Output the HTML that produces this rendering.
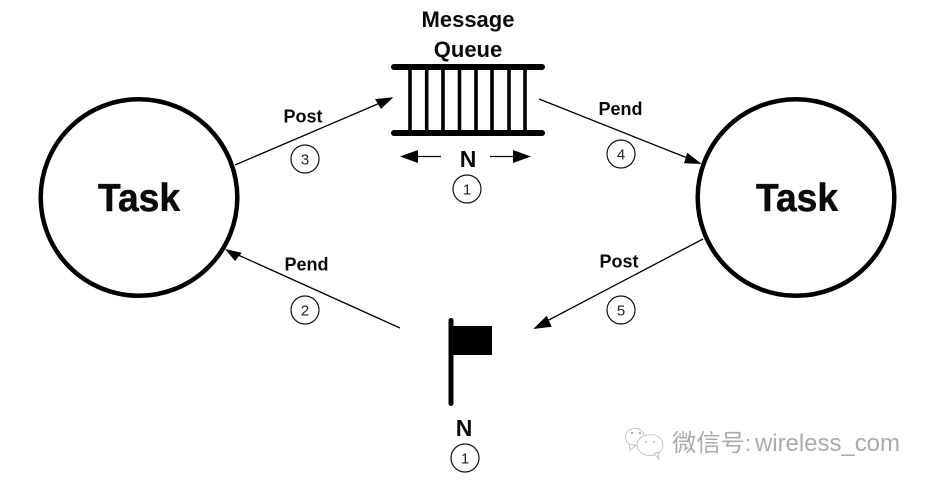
<!DOCTYPE html>
<html>
<head>
<meta charset="utf-8">
<style>
html,body{margin:0;padding:0;background:#fff;width:930px;height:485px;overflow:hidden}
svg{display:block}
.b{font-family:"Liberation Sans",sans-serif;font-weight:bold;fill:#0a0a0a;text-anchor:middle}
.n{font-family:"Liberation Sans",sans-serif;font-size:15px;fill:#222;text-anchor:middle}
.c{fill:none;stroke:#111;stroke-width:1.2}
.l{stroke:#000;stroke-width:1.3}
.w{font-family:"Liberation Sans","Noto Sans CJK SC",sans-serif;fill:#ababab}
</style>
</head>
<body>
<svg width="930" height="485" viewBox="0 0 930 485" xmlns="http://www.w3.org/2000/svg">
<rect width="930" height="485" fill="#fff"/>

<!-- Task circles -->
<circle cx="139" cy="197.5" r="98.3" fill="none" stroke="#000" stroke-width="4.5"/>
<circle cx="796" cy="197.5" r="98.3" fill="none" stroke="#000" stroke-width="4.5"/>
<text class="b" x="139" y="211" font-size="39" textLength="82" lengthAdjust="spacingAndGlyphs" stroke="#0a0a0a" stroke-width="0.5">Task</text>
<text class="b" x="797" y="211" font-size="39" textLength="82" lengthAdjust="spacingAndGlyphs" stroke="#0a0a0a" stroke-width="0.5">Task</text>

<!-- Message queue -->
<text class="b" x="468" y="27" font-size="22">Message</text>
<text class="b" x="468" y="57" font-size="22">Queue</text>
<g stroke="#000" stroke-width="6" stroke-linecap="round">
<line x1="394" y1="67" x2="542" y2="67"/>
<line x1="394" y1="133" x2="542" y2="133"/>
</g>
<g stroke="#000" stroke-width="3.6">
<line x1="410" y1="67" x2="410" y2="133"/>
<line x1="426.7" y1="67" x2="426.7" y2="133"/>
<line x1="443" y1="67" x2="443" y2="133"/>
<line x1="459.5" y1="67" x2="459.5" y2="133"/>
<line x1="476" y1="67" x2="476" y2="133"/>
<line x1="492" y1="67" x2="492" y2="133"/>
<line x1="509" y1="67" x2="509" y2="133"/>
<line x1="525" y1="67" x2="525" y2="133"/>
</g>
<line class="l" x1="416" y1="156.500" x2="441" y2="156.500"/>
<polygon points="400,156.500 418,150 418,163" fill="#000"/>
<line class="l" x1="490" y1="156.500" x2="515" y2="156.500"/>
<polygon points="531,156.500 513,150 513,163" fill="#000"/>
<text class="b" x="468" y="167" font-size="23">N</text>
<circle class="c" cx="467" cy="189" r="14"/>
<text class="n" x="467" y="194.500">1</text>

<!-- Flag -->
<line x1="451" y1="320.500" x2="451" y2="403.500" stroke="#000" stroke-width="5" stroke-linecap="round"/>
<rect x="452" y="326" width="40" height="29" fill="#000"/>
<text class="b" x="464" y="436" font-size="23">N</text>
<circle class="c" cx="465" cy="458" r="14"/>
<text class="n" x="465" y="463.500">1</text>

<!-- Connectors -->
<line class="l" x1="235" y1="165" x2="380" y2="103"/>
<polygon points="393.300,97.300 375,99 381,109" fill="#000"/>

<line class="l" x1="400" y1="328" x2="236" y2="254"/>
<polygon points="225,249 241.700,252.700 235,261" fill="#000"/>

<line class="l" x1="539" y1="99" x2="690" y2="159"/>
<polygon points="701.700,164 687.300,152.700 684,163.300" fill="#000"/>

<line class="l" x1="703" y1="239" x2="545" y2="322"/>
<polygon points="533.300,329 546.700,315.700 551.700,326.700" fill="#000"/>

<!-- Labels -->
<text class="b" x="303" y="122.500" font-size="18">Post</text>
<text class="b" x="306.500" y="270.500" font-size="18">Pend</text>
<text class="b" x="620.500" y="115" font-size="18">Pend</text>
<text class="b" x="619" y="267.500" font-size="18">Post</text>

<circle class="c" cx="305" cy="159" r="14"/>
<text class="n" x="305" y="164.500">3</text>
<circle class="c" cx="305" cy="310" r="14"/>
<text class="n" x="305" y="315.500">2</text>
<circle class="c" cx="621" cy="154" r="14"/>
<text class="n" x="621" y="159.500">4</text>
<circle class="c" cx="621" cy="310" r="14"/>
<text class="n" x="621" y="315.500">5</text>

<!-- Watermark -->
<g fill="#fff" stroke="#b5b5b5" stroke-width="0.8">
<ellipse cx="635" cy="437" rx="9.500" ry="8.500"/>
<path d="M629 444 L630 450 L636 445.500Z"/>
<ellipse cx="650" cy="445" rx="13" ry="10.500"/>
<path d="M654 454 L659 459 L658 452Z"/>
</g>
<g fill="#b0b0b0">
<circle cx="632" cy="433" r="1.200"/><circle cx="640" cy="433" r="1.200"/>
<circle cx="646" cy="442" r="1"/><circle cx="654" cy="442" r="1"/>
</g>
<text class="w" x="672" y="451" font-size="24" textLength="73" lengthAdjust="spacingAndGlyphs">微信号</text>
<text class="w" x="745" y="451" font-size="22">:</text>
<text class="w" x="755" y="451" font-size="24" textLength="145" lengthAdjust="spacing">wireless_com</text>
</svg>
</body>
</html>
